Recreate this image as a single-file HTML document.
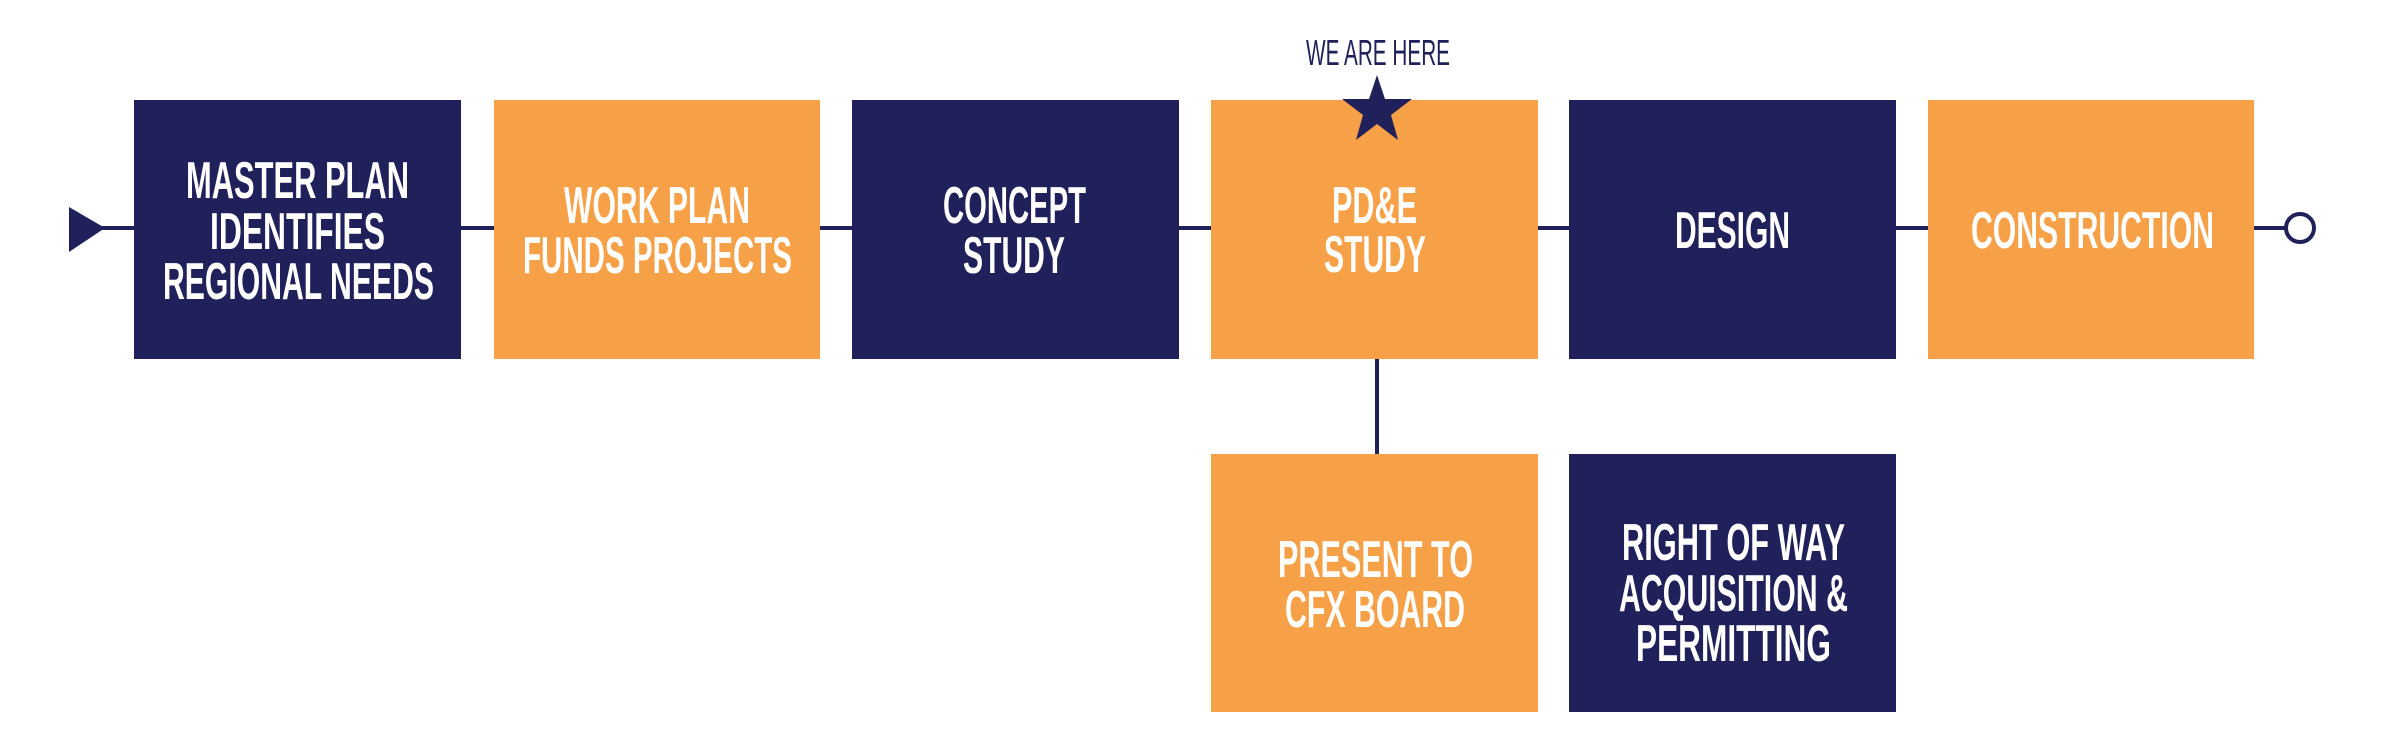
<!DOCTYPE html>
<html><head><meta charset="utf-8"><style>
html,body{margin:0;padding:0;background:#fff;}
svg{display:block;}
text{font-family:"Liberation Sans",sans-serif;font-weight:bold;fill:#fff;font-size:52px;}
</style></head><body>
<svg width="2382" height="756" viewBox="0 0 2382 756" xmlns="http://www.w3.org/2000/svg">
<line x1="100" y1="228" x2="2286" y2="228" stroke="#20205a" stroke-width="4"/>
<line x1="1377" y1="357" x2="1377" y2="454" stroke="#20205a" stroke-width="4"/>
<polygon points="69,207 105,228 69,252" fill="#20205a"/>
<circle cx="2300" cy="228" r="14" fill="#fff" stroke="#20205a" stroke-width="4"/>
<rect x="134" y="100" width="327" height="259" fill="#20205a"/>
<rect x="494" y="100" width="326" height="259" fill="#f6a047"/>
<rect x="852" y="100" width="327" height="259" fill="#20205a"/>
<rect x="1211" y="100" width="327" height="259" fill="#f6a047"/>
<rect x="1569" y="100" width="327" height="259" fill="#20205a"/>
<rect x="1928" y="100" width="326" height="259" fill="#f6a047"/>
<rect x="1211" y="454" width="327" height="258" fill="#f6a047"/>
<rect x="1569" y="454" width="327" height="258" fill="#20205a"/>
<polygon fill="#20205a" points="1377,75 1385,99 1412,99 1391,115 1398,140 1377,124 1356,140 1363,115 1342,99 1369,99"/>
<text x="1306" y="65" textLength="144" lengthAdjust="spacingAndGlyphs" style="font-weight:normal;font-size:36px;fill:#20205a">WE ARE HERE</text>
<text x="186" y="198" textLength="223" lengthAdjust="spacingAndGlyphs">MASTER PLAN</text>
<text x="210" y="249" textLength="175" lengthAdjust="spacingAndGlyphs">IDENTIFIES</text>
<text x="163" y="299" textLength="271" lengthAdjust="spacingAndGlyphs">REGIONAL NEEDS</text>
<text x="564" y="223" textLength="186" lengthAdjust="spacingAndGlyphs">WORK PLAN</text>
<text x="523" y="273" textLength="269" lengthAdjust="spacingAndGlyphs">FUNDS PROJECTS</text>
<text x="943" y="223" textLength="143" lengthAdjust="spacingAndGlyphs">CONCEPT</text>
<text x="963" y="273" textLength="102" lengthAdjust="spacingAndGlyphs">STUDY</text>
<text x="1332" y="223" textLength="85" lengthAdjust="spacingAndGlyphs">PD&amp;E</text>
<text x="1324" y="272" textLength="102" lengthAdjust="spacingAndGlyphs">STUDY</text>
<text x="1675" y="248" textLength="115" lengthAdjust="spacingAndGlyphs">DESIGN</text>
<text x="1971" y="248" textLength="243" lengthAdjust="spacingAndGlyphs">CONSTRUCTION</text>
<text x="1278" y="577" textLength="195" lengthAdjust="spacingAndGlyphs">PRESENT TO</text>
<text x="1285" y="627" textLength="180" lengthAdjust="spacingAndGlyphs">CFX BOARD</text>
<text x="1622" y="560" textLength="223" lengthAdjust="spacingAndGlyphs">RIGHT OF WAY</text>
<text x="1619" y="611" textLength="229" lengthAdjust="spacingAndGlyphs">ACQUISITION &amp;</text>
<text x="1636" y="661" textLength="195" lengthAdjust="spacingAndGlyphs">PERMITTING</text>
</svg>
</body></html>
